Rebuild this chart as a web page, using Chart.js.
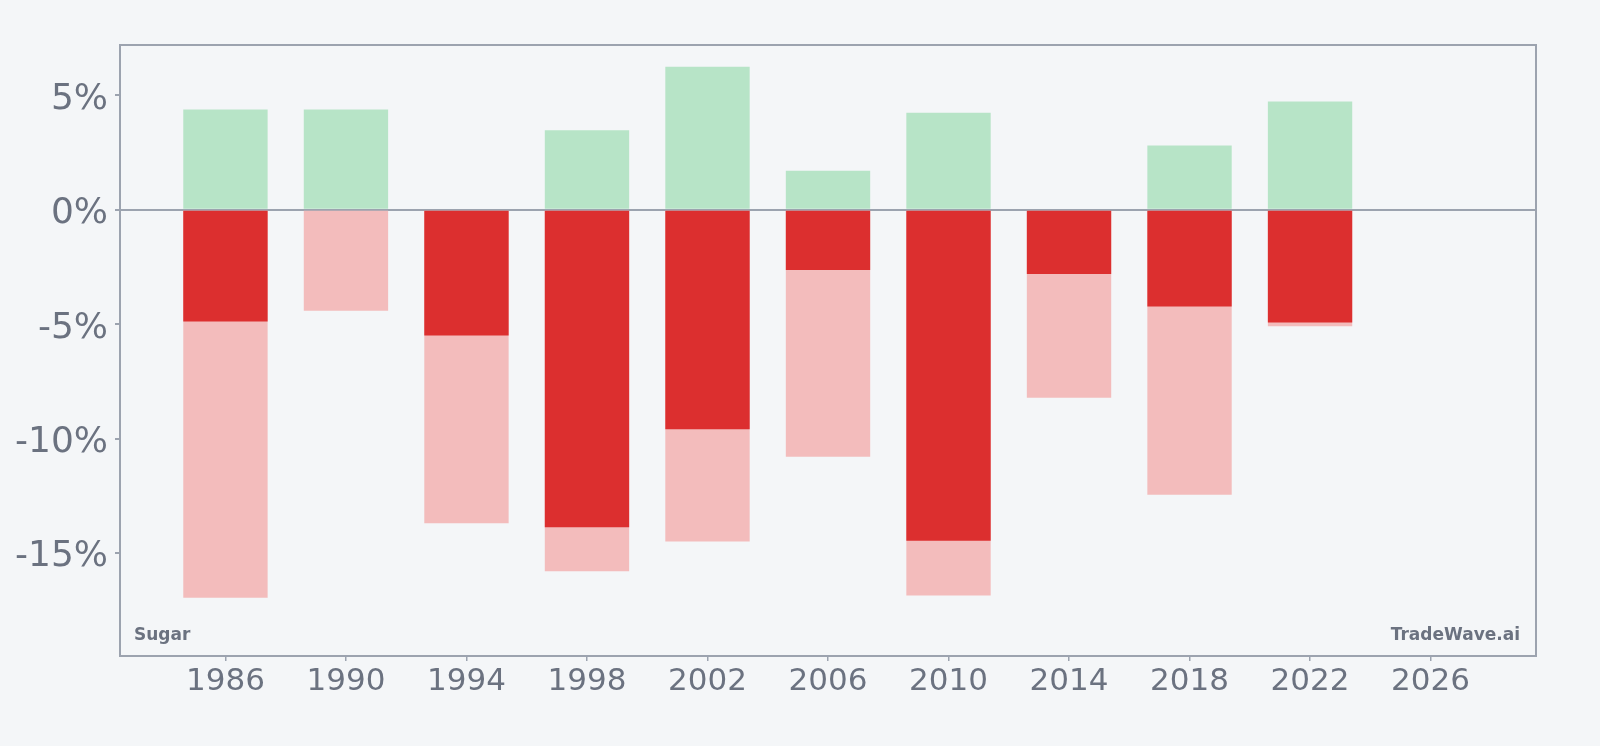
<!DOCTYPE html>
<html>
<head>
<meta charset="utf-8">
<script src="https://cdn.jsdelivr.net/npm/chart.js@4/dist/chart.umd.min.js"></script>
<style>
  html, body { margin: 0; padding: 0; background: #f4f6f8; }
  #wrap { width: 1600px; height: 746px; }
</style>
</head>
<body>
<div id="wrap"><canvas id="chart"></canvas></div>
<script>
// Years of each bar and the x tick labels.
var years = [1986, 1990, 1994, 1998, 2002, 2006, 2010, 2014, 2018, 2022];
var tickYears = [1986, 1990, 1994, 1998, 2002, 2006, 2010, 2014, 2018, 2022, 2026];
var yTicks = [-15, -10, -5, 0, 5];

// Percent values (null = no bar).
var gains = [4.38, 4.38, null, 3.48, 6.25, 1.70, 4.24, null, 2.81, 4.73];
var closeLoss = [-4.88, null, -5.49, -13.87, -9.59, -2.63, -14.46, -2.81, -4.23, -4.93];
var worstLoss = [-16.95, -4.41, -13.70, -15.80, -14.50, -10.79, -16.86, -8.21, -12.45, -5.09];

var TEXT = '#6b7280';
var LINE = '#9ca3af';

function points(values) {
  var out = [];
  for (var i = 0; i < years.length; ++i) {
    if (values[i] !== null) out.push({x: years[i], y: values[i]});
  }
  return out;
}

// Frame round the plot area and the two corner notes.
var framePlugin = {
  id: 'frame',
  afterDraw: function(chart) {
    var a = chart.chartArea;
    var ctx = chart.ctx;
    ctx.save();
    ctx.strokeStyle = LINE;
    ctx.lineWidth = 2;
    ctx.strokeRect(a.left, a.top, a.right - a.left, a.bottom - a.top);
    ctx.fillStyle = TEXT;
    ctx.font = 'bold 17px "DejaVu Sans"';
    ctx.textBaseline = 'alphabetic';
    ctx.textAlign = 'left';
    ctx.fillText('Sugar', a.left + 14, a.bottom - 16);
    ctx.textAlign = 'right';
    ctx.fillText('TradeWave.ai', a.right - 16, a.bottom - 16);
    ctx.restore();
  }
};

var barOpts = {grouped: false, categoryPercentage: 1, barPercentage: 0.7, borderWidth: 0};

new Chart(document.getElementById('chart'), {
  type: 'bar',
  data: {
    datasets: [
      Object.assign({label: 'Close', data: points(closeLoss), backgroundColor: '#dc2f2f'}, barOpts),
      Object.assign({label: 'Worst', data: points(worstLoss), backgroundColor: '#f3bcbc'}, barOpts),
      Object.assign({label: 'Gain', data: points(gains), backgroundColor: '#b7e4c7'}, barOpts)
    ]
  },
  options: {
    responsive: true,
    maintainAspectRatio: false,
    animation: false,
    layout: {padding: {top: 45, right: 64, left: 0, bottom: 0}},
    plugins: {legend: {display: false}, tooltip: {enabled: false}},
    scales: {
      x: {
        type: 'linear',
        min: 1982.5,
        max: 2029.5,
        offset: false,
        afterBuildTicks: function(axis) {
          axis.ticks = tickYears.map(function(v) { return {value: v}; });
        },
        afterFit: function(axis) { axis.height = 90; },
        border: {display: false},
        grid: {offset: false, drawOnChartArea: false, tickColor: LINE, tickLength: 5, lineWidth: 1.5},
        ticks: {
          color: TEXT,
          padding: 2,
          font: {family: 'DejaVu Sans', size: 31},
          callback: function(v) { return String(v); }
        }
      },
      y: {
        min: -19.5,
        max: 7.2,
        z: 1,
        afterBuildTicks: function(axis) {
          axis.ticks = yTicks.map(function(v) { return {value: v}; });
        },
        afterFit: function(axis) { axis.width = 120; },
        border: {display: false},
        grid: {
          color: function(c) { return c.tick && c.tick.value === 0 ? LINE : 'rgba(0,0,0,0)'; },
          tickColor: LINE,
          tickLength: 5,
          lineWidth: 2
        },
        ticks: {
          color: TEXT,
          padding: 7,
          labelOffset: 4,
          font: {family: 'DejaVu Sans', size: 36},
          callback: function(v) { return v + '%'; }
        }
      }
    }
  },
  plugins: [framePlugin]
});
</script>
</body>
</html>
